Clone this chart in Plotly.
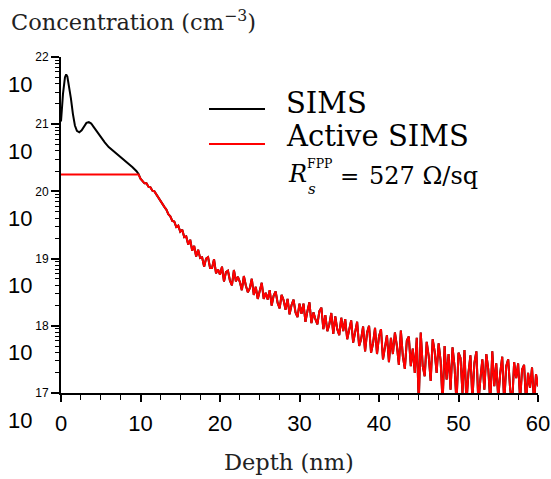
import plotly.graph_objects as go

# ---------------- data ----------------
# near-surface part of the SIMS profile: depth (nm) and log10 concentration (cm^-3)
depth_head = [0.0, 0.25, 0.5, 0.65, 0.8, 1.0, 1.25, 1.5, 1.75, 2.0, 2.3, 2.6, 2.9,
              3.2, 3.5, 3.8, 4.1, 4.5, 5.0, 5.5, 6.0, 6.5, 7.0, 7.5, 8.0, 8.5,
              9.0, 9.5, 9.75, 10.0]
log_conc_head = [21.04, 21.45, 21.70, 21.74, 21.71, 21.58, 21.38, 21.15, 20.98, 20.90,
                 20.88, 20.91, 20.97, 21.02, 21.03, 21.01, 20.96, 20.89, 20.81, 20.73,
                 20.66, 20.61, 20.56, 20.52, 20.47, 20.41, 20.36, 20.30, 20.26, 20.19]

# deeper (noisy) part, sampled every 0.25 nm from 10.25 nm to 60 nm
tail_start = 10.25
tail_step = 0.25
log_conc_tail = [
    20.16, 20.12, 20.12, 20.07,  20.06, 20.01, 20.00, 19.95,
    19.92, 19.87, 19.82, 19.77,  19.73, 19.66, 19.63, 19.56,
    19.55, 19.47, 19.49, 19.40,  19.43, 19.32, 19.33, 19.21,
    19.28, 19.12, 19.19, 19.03,  19.13, 19.01, 19.02, 18.88,
    19.00, 19.02, 18.86, 18.86,  18.99, 18.78, 18.84, 18.76,
    18.88, 18.66, 18.80, 18.82,  18.67, 18.60, 18.83, 18.66,
    18.73, 18.65, 18.53, 18.74,  18.60, 18.50, 18.56, 18.70,
    18.46, 18.58, 18.40, 18.54,  18.64, 18.40, 18.49, 18.39,
    18.53, 18.30, 18.45, 18.51,  18.34, 18.26, 18.46, 18.38,
    18.24, 18.40, 18.17, 18.31,  18.39, 18.20, 18.13, 18.33,
    18.18, 18.33, 18.06, 18.22,  18.35, 18.04, 18.20, 18.10,
    18.02, 18.22, 18.27, 17.95,  18.16, 17.92, 18.02, 18.19,
    17.88, 18.14, 17.95, 17.86,  18.12, 17.92, 18.10, 17.80,
    17.97, 18.08, 17.75, 17.93,  18.06, 17.70, 17.80, 17.99,
    17.62, 17.90, 18.00, 17.60,  17.74, 17.97, 17.58, 17.84,
    17.95, 17.50, 17.70, 17.86,  17.46, 17.82, 17.58, 17.90,
    17.70, 17.42, 17.93, 17.55,  17.36, 17.78, 17.84, 17.40,
    17.66, 17.30, 17.82, 16.85,  17.90, 17.40, 17.25, 17.76,
    17.55, 17.18, 17.80, 17.62,  17.30, 17.74, 17.48, 16.85,
    17.70, 17.20, 17.58, 17.05,  17.68, 17.40, 16.85, 17.60,
    17.52, 17.00, 17.64, 16.85,  17.30, 17.56, 16.90, 17.45,
    17.62, 16.85, 17.20, 17.50,  17.05, 17.58, 17.35, 16.85,
    17.62, 17.10, 17.44, 16.92,  17.30, 17.54, 16.85, 17.40,
    17.50, 17.05, 16.85, 17.46,  17.22, 17.44, 16.90, 17.35,
    17.42, 16.85, 17.30, 17.08,  17.38, 16.85, 17.28, 17.10,
]
depth_tail = [tail_start + tail_step * i for i in range(len(log_conc_tail))]

depth = depth_head + depth_tail
sims = [10.0 ** v for v in log_conc_head + log_conc_tail]
active_cap = 1.78e20          # electrically active limit
active = [min(v, active_cap) for v in sims]

y_exponents = [17, 18, 19, 20, 21, 22]
x_tick_vals = [0, 10, 20, 30, 40, 50, 60]
series_names = ["SIMS", "Active SIMS"]
rs_value = "527"

# ---------------- figure ----------------
SANS = "Liberation Sans"
SERIF = "DejaVu Serif"

fig = go.Figure()
fig.add_trace(go.Scatter(x=depth, y=sims, mode="lines", name=series_names[0],
                         line=dict(color="black", width=2)))
fig.add_trace(go.Scatter(x=depth, y=active, mode="lines", name=series_names[1],
                         line=dict(color="#ff0000", width=2)))

L, R, T, B = 61, 13, 57, 86
W, H = 551, 479
PW, PH = W - L - R, H - T - B


def px(X):
    return (X - L) / PW


def py(Y):
    return (H - B - Y) / PH


minor_y = [float(k) * 10.0 ** e for e in y_exponents[:-1] for k in range(2, 10)]

fig.update_layout(
    width=W, height=H, autosize=False,
    margin=dict(l=L, r=R, t=T, b=B),
    paper_bgcolor="white", plot_bgcolor="white",
    showlegend=False,
    xaxis=dict(range=[0, 60], tickvals=x_tick_vals, ticks="outside", ticklen=7,
               tickwidth=1.5, tickcolor="black", showline=True, linecolor="black",
               linewidth=2, showgrid=False, zeroline=False, ticklabelstandoff=3,
               automargin=False,
               tickfont=dict(family=SANS, size=22, color="black"),
               minor=dict(dtick=2.5, ticks="outside", ticklen=5, tickwidth=1.2,
                          tickcolor="black", showgrid=False)),
    yaxis=dict(type="log", range=[17, 22],
               tickvals=[10.0 ** e for e in y_exponents],
               ticktext=[str(e) for e in y_exponents],
               ticks="outside", ticklen=8, tickwidth=1.5, tickcolor="black",
               showline=True, linecolor="black", linewidth=2, showgrid=False,
               zeroline=False, automargin=False,
               tickfont=dict(family=SANS, size=12, color="black"),
               minor=dict(tickvals=minor_y, ticks="outside", ticklen=4,
                          tickwidth=1, tickcolor="black", showgrid=False)),
)

ann = []
# big "10" bases of the y tick labels
for e in y_exponents:
    ann.append(dict(text="10", xref="paper", yref="y", x=0, y=e, xanchor="right",
                    yanchor="middle", xshift=-27, yshift=-27, showarrow=False,
                    font=dict(family=SANS, size=22, color="black")))
# y title
ann.append(dict(text="Concentration (cm<sup>−3</sup>)", xref="paper", yref="paper",
                x=px(9), y=py(21), xanchor="left", yanchor="middle", showarrow=False,
                font=dict(family=SERIF, size=22.5, color="#222")))
# x title
ann.append(dict(text="Depth (nm)", xref="paper", yref="paper", x=px(289), y=py(462),
                xanchor="center", yanchor="middle", showarrow=False,
                font=dict(family=SERIF, size=22.5, color="#222")))
# legend texts
ann.append(dict(text=series_names[0], xref="paper", yref="paper", x=px(284), y=py(103),
                xanchor="left", yanchor="middle", showarrow=False,
                font=dict(family=SERIF, size=29, color="black")))
ann.append(dict(text=series_names[1], xref="paper", yref="paper", x=px(284), y=py(136),
                xanchor="left", yanchor="middle", showarrow=False,
                font=dict(family=SERIF, size=29, color="black")))
# R_s^FPP = 527 Ohm/sq
ann.append(dict(text="<i>R</i>", xref="paper", yref="paper", x=px(286), y=py(174),
                xanchor="left", yanchor="middle", showarrow=False,
                font=dict(family=SERIF, size=24, color="black")))
ann.append(dict(text="FPP", xref="paper", yref="paper", x=px(305), y=py(163),
                xanchor="left", yanchor="middle", showarrow=False,
                font=dict(family=SERIF, size=12.5, color="black")))
ann.append(dict(text="<i>s</i>", xref="paper", yref="paper", x=px(306), y=py(189),
                xanchor="left", yanchor="middle", showarrow=False,
                font=dict(family=SERIF, size=15, color="black")))
ann.append(dict(text="=", xref="paper", yref="paper", x=px(338), y=py(176),
                xanchor="left", yanchor="middle", showarrow=False,
                font=dict(family=SERIF, size=23, color="black")))
ann.append(dict(text=rs_value + " Ω/sq", xref="paper", yref="paper", x=px(367), y=py(176),
                xanchor="left", yanchor="middle", showarrow=False,
                font=dict(family=SERIF, size=24, color="black")))
fig.update_layout(annotations=ann)

# legend line samples
fig.add_shape(type="line", xref="paper", yref="paper", x0=px(209), x1=px(265),
              y0=py(109), y1=py(109), line=dict(color="black", width=2))
fig.add_shape(type="line", xref="paper", yref="paper", x0=px(209), x1=px(265),
              y0=py(144), y1=py(144), line=dict(color="#ff0000", width=2))

fig.write_html("out.html", config={"responsive": False})
